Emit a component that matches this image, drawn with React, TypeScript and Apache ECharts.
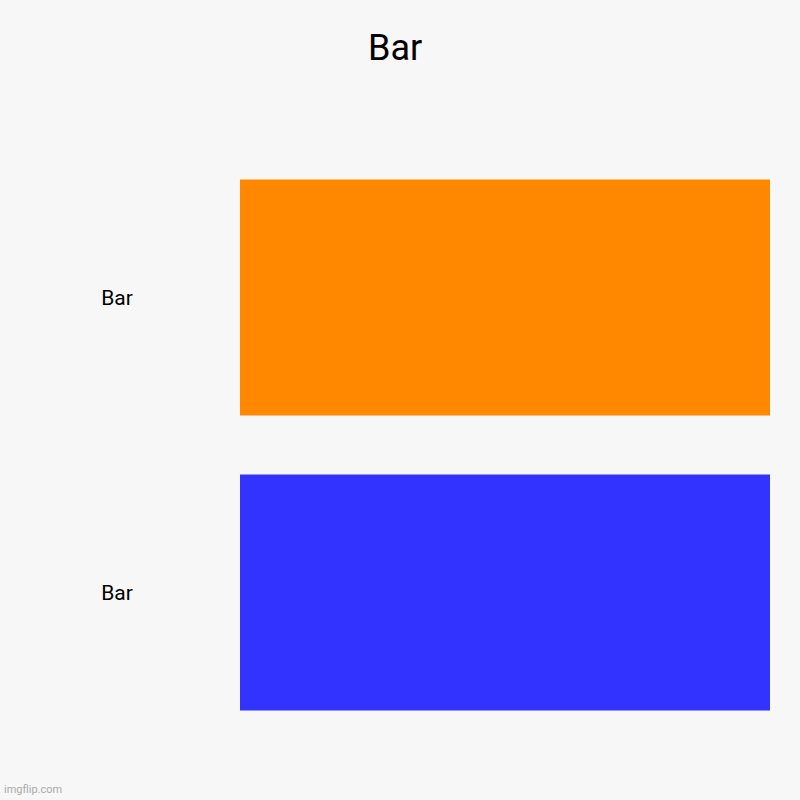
import { useEffect, useRef } from 'react';
import * as echarts from 'echarts';

// Chart data
const categories = ['Bar', 'Bar'];
const values = [1, 1];
const barColors = ['#ff8800', '#3333ff'];
const titleText = 'Bar';

export default function App() {
  const chartRef = useRef<HTMLDivElement>(null);

  useEffect(() => {
    document.body.style.margin = '0';
    if (!chartRef.current) return;
    const chart = echarts.init(chartRef.current, null, { renderer: 'svg' });

    chart.setOption({
      animation: false,
      backgroundColor: '#f7f7f7',
      textStyle: { fontFamily: 'Roboto' },
      title: {
        text: titleText,
        left: 363,
        top: 25,
        textStyle: { fontSize: 36, fontWeight: 'normal', color: '#000', fontFamily: 'Roboto' },
      },
      grid: { left: 240, right: 30, top: 150, bottom: 60 },
      xAxis: {
        type: 'value',
        min: 0,
        max: 1,
        show: false,
      },
      yAxis: {
        type: 'category',
        data: categories,
        inverse: true,
        axisLine: { show: false },
        axisTick: { show: false },
        axisLabel: {
          fontSize: 21,
          color: '#000',
          align: 'center',
          margin: 123,
          padding: [3, 0, 0, 0],
          fontFamily: 'Roboto',
        },
      },
      series: [
        {
          type: 'bar',
          barCategoryGap: '20%',
          data: values.map((v, i) => ({ value: v, itemStyle: { color: barColors[i] } })),
        },
      ],
      graphic: [
        {
          type: 'text',
          left: 4,
          top: 784,
          style: { text: 'imgflip.com', fill: '#aaaaaa', fontSize: 11, fontFamily: 'Roboto' },
        },
      ],
    });

    return () => chart.dispose();
  }, []);

  return <div ref={chartRef} style={{ width: 800, height: 800 }} />;
}
